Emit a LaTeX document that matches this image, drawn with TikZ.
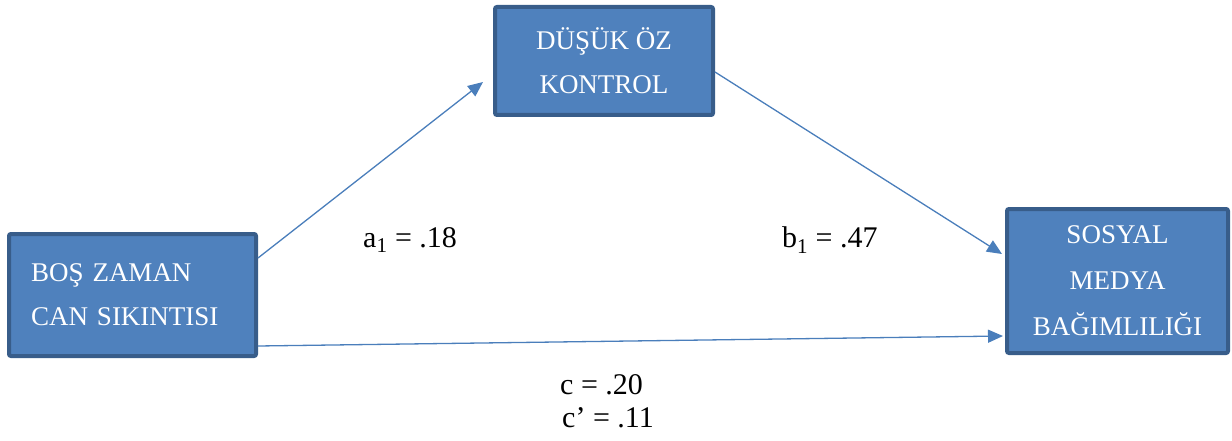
\documentclass[tikz,border=0pt]{standalone}
\usepackage{fontspec}
\setmainfont{Liberation Serif}
\usetikzlibrary{arrows.meta}
\definecolor{boxfill}{HTML}{4F81BD}
\definecolor{boxline}{HTML}{385D8A}
\definecolor{arrowc}{HTML}{4A7EBB}
\tikzset{
  varbox/.style={draw=boxline, fill=boxfill, line width=4pt, rounded corners=2pt,
    text=white, font=\fontsize{27}{46}\selectfont, inner sep=0pt},
  path/.style={draw=arrowc, line width=1.3pt, -{Triangle[length=15pt,width=13pt]}},
  coef/.style={font=\fontsize{30}{34}\selectfont, anchor=west, inner sep=0pt}
}
\begin{document}
\begin{tikzpicture}[x=1pt,y=-1pt]
\useasboundingbox (0,0) rectangle (1232,441);
\node[varbox, minimum width=218pt, minimum height=108pt, align=center] (A) at (604,61) {DÜŞÜK ÖZ\\[-2pt]KONTROL};
\node[varbox, minimum width=247pt, minimum height=122pt, align=left, text width=203pt] (B) at (132.5,295) {BOŞ ZAMAN\\[-2pt]CAN SIKINTISI\\[-14pt]};
\node[varbox, minimum width=221pt, minimum height=144pt, align=center] (C) at (1117.5,281) {SOSYAL\\MEDYA\\BAĞIMLILIĞI};
\draw[path] ([yshift=37pt]B.east) -- ([xshift=-10pt,yshift=-21pt]A.west);
\draw[path] ([yshift=-11pt]A.east) -- ([xshift=-3pt,yshift=27pt]C.west);
\draw[path] ([yshift=-51pt]B.east) -- ([xshift=-2pt,yshift=-55pt]C.west);
\node[coef] (a1) at (363,240) {a\textsubscript{1} = .18};
\node[coef] (b1) at (782,240) {b\textsubscript{1} = .47};
\node[coef] (c) at (560,385) {c = .20};
\node[coef] (cp) at (562,418) {c’ = .11};
\end{tikzpicture}
\end{document}
